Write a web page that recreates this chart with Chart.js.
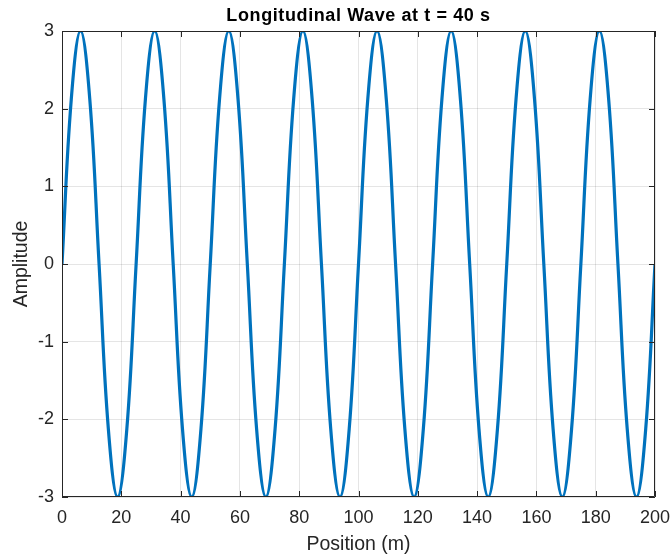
<!DOCTYPE html>
<html>
<head>
<meta charset="utf-8">
<script src="https://cdn.jsdelivr.net/npm/chart.js@4.4.1/dist/chart.umd.min.js"></script>
<style>
html,body{margin:0;padding:0;background:#fff;}
#wrap{width:670px;height:558px;position:relative;}
</style>
</head>
<body>
<div id="wrap"><canvas id="c" width="670" height="558"></canvas></div>
<script>
// Data (position in m, amplitude)
const positions = [
  0,3.125,6.25,9.375,12.5,15.625,18.75,21.875,
  25,28.125,31.25,34.375,37.5,40.625,43.75,46.875,
  50,53.125,56.25,59.375,62.5,65.625,68.75,71.875,
  75,78.125,81.25,84.375,87.5,90.625,93.75,96.875,
  100,103.125,106.25,109.375,112.5,115.625,118.75,121.875,
  125,128.125,131.25,134.375,137.5,140.625,143.75,146.875,
  150,153.125,156.25,159.375,162.5,165.625,168.75,171.875,
  175,178.125,181.25,184.375,187.5,190.625,193.75,196.875,
  200
];
const amplitudes = [
  0,2.12,3,2.12,0,-2.12,-3,-2.12,
  0,2.12,3,2.12,0,-2.12,-3,-2.12,
  0,2.12,3,2.12,0,-2.12,-3,-2.12,
  0,2.12,3,2.12,0,-2.12,-3,-2.12,
  0,2.12,3,2.12,0,-2.12,-3,-2.12,
  0,2.12,3,2.12,0,-2.12,-3,-2.12,
  0,2.12,3,2.12,0,-2.12,-3,-2.12,
  0,2.12,3,2.12,0,-2.12,-3,-2.12,
  0
];
const xTicks = [0,20,40,60,80,100,120,140,160,180,200];
const yTicks = [-3,-2,-1,0,1,2,3];
const titleText = 'Longitudinal Wave at t = 40 s';
const xLabel = 'Position (m)';
const yLabel = 'Amplitude';

const points = positions.map((x, i) => ({x: x, y: amplitudes[i]}));
const FONT = '"Liberation Sans", Arial, Helvetica, sans-serif';
const AX = '#262626';

const boxPlugin = {
  id: 'box',
  afterDraw(chart) {
    const {ctx, chartArea: a, scales} = chart;
    ctx.save();
    ctx.strokeStyle = AX;
    ctx.lineWidth = 1;
    ctx.beginPath();
    ctx.rect(Math.round(a.left) + 0.5, Math.round(a.top) + 0.5,
             Math.round(a.right - a.left) - 1, Math.round(a.bottom - a.top) - 1);
    ctx.stroke();
    const tl = 6;
    ctx.beginPath();
    xTicks.forEach(v => {
      const px = Math.round(scales.x.getPixelForValue(v)) + 0.5;
      ctx.moveTo(px, a.bottom); ctx.lineTo(px, a.bottom - tl);
      ctx.moveTo(px, a.top); ctx.lineTo(px, a.top + tl);
    });
    yTicks.forEach(v => {
      const py = Math.round(scales.y.getPixelForValue(v)) + 0.5;
      ctx.moveTo(a.left, py); ctx.lineTo(a.left + tl, py);
      ctx.moveTo(a.right, py); ctx.lineTo(a.right - tl, py);
    });
    ctx.stroke();
    // chart title, centred over the plot area
    ctx.fillStyle = '#000';
    ctx.font = 'bold 18px ' + FONT;
    ctx.letterSpacing = '0.6px';
    ctx.textAlign = 'center';
    ctx.textBaseline = 'middle';
    ctx.fillText(titleText, (a.left + a.right) / 2, 16);
    ctx.restore();
  }
};

new Chart(document.getElementById('c'), {
  type: 'line',
  data: {
    datasets: [{
      data: points,
      borderColor: '#0072BD',
      borderWidth: 3.2,
      pointRadius: 0,
      tension: 0.4,
      fill: false
    }]
  },
  options: {
    responsive: false,
    animation: false,
    events: [],
    layout: {padding: {left: 0, right: 0, top: 31, bottom: 0}},
    plugins: {
      legend: {display: false},
      tooltip: {enabled: false},
      title: {display: false}
    },
    scales: {
      x: {
        type: 'linear',
        min: 0, max: 200,
        afterFit(s) { s.height = 61; s.paddingRight = 15; },
        afterBuildTicks(s) { s.ticks = xTicks.map(v => ({value: v})); },
        ticks: {color: AX, font: {family: FONT, size: 18}, padding: 10, maxRotation: 0},
        grid: {color: 'rgba(38,38,38,0.12)', drawTicks: false},
        border: {display: false},
        title: {display: true, text: xLabel, color: AX, font: {family: FONT, size: 19.5}, padding: {top: 2, bottom: 2}}
      },
      y: {
        type: 'linear',
        min: -3, max: 3,
        afterFit(s) { s.width = 62; },
        afterBuildTicks(s) { s.ticks = yTicks.map(v => ({value: v})); },
        ticks: {color: AX, font: {family: FONT, size: 18}, padding: 8},
        grid: {color: 'rgba(38,38,38,0.12)', drawTicks: false},
        border: {display: false},
        title: {display: true, text: yLabel, color: AX, font: {family: FONT, size: 19.5}, padding: {top: 10, bottom: 10}}
      }
    }
  },
  plugins: [boxPlugin]
});
</script>
</body>
</html>
